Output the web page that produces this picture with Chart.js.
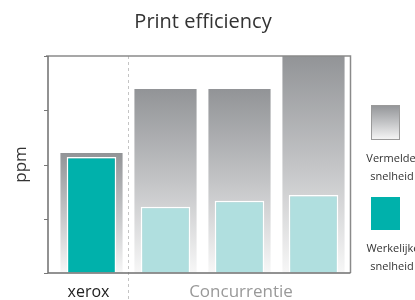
<!DOCTYPE html>
<html>
<head>
<meta charset="utf-8">
<script src="https://cdn.jsdelivr.net/npm/chart.js@4/dist/chart.umd.min.js"></script>
<style>
  html, body { margin: 0; padding: 0; background: #fff; }
  #wrap { width: 415px; height: 300px; position: relative; }
</style>
</head>
<body>
<div id="wrap"><canvas id="effChart"></canvas></div>
<script>
// data
const categories = ["xerox", "Concurrent A", "Concurrent B", "Concurrent C"];
const statedSpeed = [2.21, 3.39, 3.39, 4.0];   // Vermelde snelheid
const actualSpeed = [2.14, 1.22, 1.33, 1.44];  // Werkelijke snelheid
const yTicks = [0, 1, 2, 3, 4];

const groupLabels = ["xerox", "Concurrentie"];
const legendLabels = [["Vermelde", "snelheid"], ["Werkelijke", "snelheid"]];

const FONT = "'Open Sans', 'Noto Sans', sans-serif";
const TEAL = "#00b1ab";
const LIGHT_TEAL = "#b0dfdf";
const AXIS_X = 48;   // where the left axis line sits

function grayGradient(ctx, top, bottom) {
    let g = ctx.createLinearGradient(0, top, 0, bottom);
    g.addColorStop(0, "#929497");
    g.addColorStop(0.5, "#c3c4c6");
    g.addColorStop(1, "#f7f7f7");
    return g;
}

// box, divider, group labels, title and legend
const decoPlugin = {
    id: "deco",
    beforeDatasetsDraw(chart) {
        const { ctx, chartArea: a, scales } = chart;
        // dashed divider between xerox and the others
        const xd = (scales.x.getPixelForValue(0) + scales.x.getPixelForValue(1)) / 2 - 1;
        ctx.save();
        ctx.strokeStyle = "#c4c4c4";
        ctx.lineWidth = 1;
        ctx.setLineDash([3, 3]);
        ctx.beginPath();
        ctx.moveTo(Math.round(xd) + 0.5, a.top);
        ctx.lineTo(Math.round(xd) + 0.5, 300);
        ctx.stroke();
        ctx.restore();
    },
    afterDraw(chart) {
        const { ctx, chartArea: a, scales } = chart;
        ctx.save();
        // plot frame
        ctx.strokeStyle = "#8a8a8a";
        ctx.lineWidth = 1.5;
        ctx.beginPath();
        ctx.moveTo(AXIS_X - 2, a.top);
        ctx.lineTo(a.right, a.top);
        ctx.lineTo(a.right, a.bottom);
        ctx.stroke();
        ctx.strokeStyle = "#6f6f6f";
        ctx.beginPath();
        ctx.moveTo(AXIS_X, a.top);
        ctx.lineTo(AXIS_X, a.bottom);
        ctx.lineTo(a.right, a.bottom);
        ctx.stroke();
        // y tick marks (no labels)
        ctx.lineWidth = 1;
        ctx.strokeStyle = "#777";
        yTicks.forEach(v => {
            const y = Math.round(scales.y.getPixelForValue(v)) + 0.5;
            ctx.beginPath();
            ctx.moveTo(AXIS_X - 4, y);
            ctx.lineTo(AXIS_X, y);
            ctx.stroke();
        });

        // title
        ctx.textAlign = "center";
        ctx.textBaseline = "alphabetic";
        ctx.fillStyle = "#333";
        ctx.font = "20px " + FONT;
        ctx.fillText("Print efficiency", 203, 28);

        // group labels
        ctx.font = "16px " + FONT;
        ctx.fillStyle = "#222";
        ctx.fillText(groupLabels[0], scales.x.getPixelForValue(0) - 3, 297);
        ctx.fillStyle = "#999";
        ctx.font = "17px " + FONT;
        ctx.fillText(groupLabels[1], 241, 297);

        // legend
        const lx = 371, lw = 29;
        ctx.fillStyle = grayGradient(ctx, 105, 140);
        ctx.fillRect(lx, 105, lw, 35);
        ctx.strokeStyle = "#9a9a9a";
        ctx.lineWidth = 1;
        ctx.strokeRect(lx + 0.5, 105.5, lw - 1, 34);
        ctx.fillStyle = TEAL;
        ctx.fillRect(lx, 197, lw, 33);

        ctx.fillStyle = "#333";
        ctx.font = "11px " + FONT;
        ctx.fillText(legendLabels[0][0], 391, 162);
        ctx.fillText(legendLabels[0][1], 392, 180);
        ctx.fillText(legendLabels[1][0], 393, 252);
        ctx.fillText(legendLabels[1][1], 392, 270);
        ctx.restore();
    }
};

const ctx = document.getElementById("effChart").getContext("2d");
const chart = new Chart(ctx, {
    type: "bar",
    data: {
        labels: categories,
        datasets: [{
            label: "Werkelijke snelheid",
            data: actualSpeed,
            grouped: false,
            backgroundColor: c => c.dataIndex === 0 ? TEAL : LIGHT_TEAL,
            borderColor: "#ffffff",
            borderWidth: 1.5,
            borderSkipped: "bottom",
            categoryPercentage: 1,
            barPercentage: 0.67
        }, {
            label: "Vermelde snelheid",
            data: statedSpeed,
            grouped: false,
            backgroundColor: c => {
                const ch = c.chart;
                if (!ch.chartArea || c.raw === undefined) return "#b0b0b0";
                const y = ch.scales.y;
                return grayGradient(ch.ctx, y.getPixelForValue(c.raw), y.getPixelForValue(0));
            },
            borderWidth: 0,
            categoryPercentage: 1,
            barPercentage: 0.84
        }]
    },
    options: {
        responsive: true,
        maintainAspectRatio: false,
        animation: false,
        layout: { padding: { top: 56, right: 64.5, bottom: 27, left: 0 } },
        plugins: {
            legend: { display: false },
            title: { display: false },
            tooltip: { enabled: false }
        },
        scales: {
            x: { display: false },
            y: {
                min: yTicks[0],
                max: yTicks[yTicks.length - 1],
                afterBuildTicks: s => { s.ticks = yTicks.map(v => ({ value: v })); },
                afterFit: s => { s.width = 54.5; },
                ticks: { display: false },
                grid: { drawOnChartArea: false, drawTicks: false },
                border: { display: false },
                title: {
                    display: true,
                    text: "ppm",
                    color: "#333",
                    font: { family: FONT, size: 17 },
                    padding: { top: 11, bottom: 0 }
                }
            }
        }
    },
    plugins: [decoPlugin]
});
</script>
</body>
</html>
